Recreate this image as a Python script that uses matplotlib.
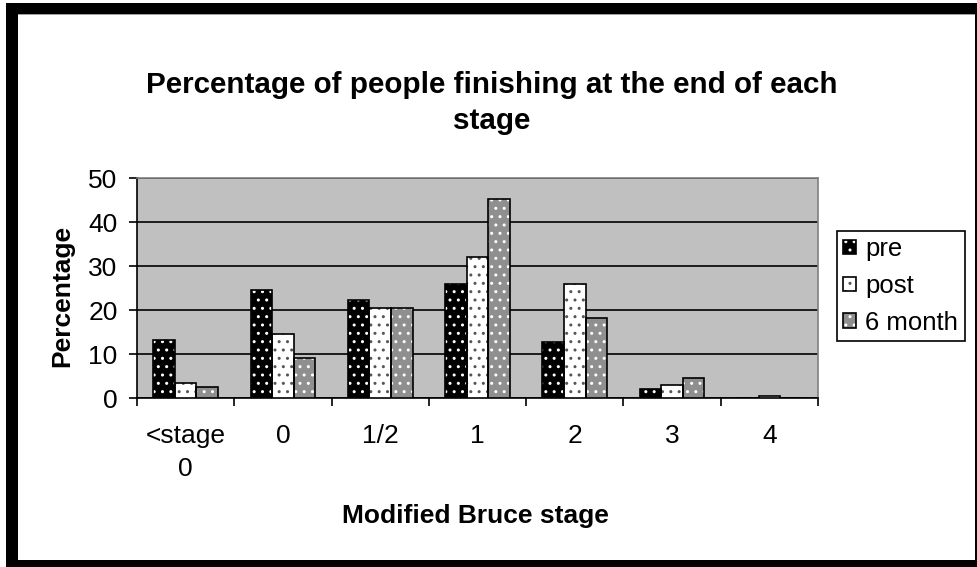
import matplotlib
matplotlib.use("Agg")
import matplotlib.pyplot as plt
import numpy as np
from matplotlib.patches import Rectangle
from matplotlib.legend_handler import HandlerTuple

plt.rcParams['font.family'] = ['Liberation Sans', 'DejaVu Sans']
plt.rcParams['hatch.linewidth'] = 1.0

categories = ['<stage\n0', '0', '1/2', '1', '2', '3', '4']
series_names = ['pre', 'post', '6 month']
pre = [13.2, 24.6, 22.3, 25.9, 12.8, 2.1, 0.0]
post = [3.5, 14.5, 20.4, 32.1, 25.8, 2.9, 0.5]
six_month = [2.4, 9.1, 20.4, 45.3, 18.2, 4.6, 0.0]
yticks = [0, 10, 20, 30, 40, 50]

faces = ['black', 'white', '#8f8f8f']
dots = ['white', '#555555', 'white']

fig = plt.figure(figsize=(9.77, 5.67), dpi=100)
fig.patch.set_facecolor('white')

# black frame round the chart
fig.patches.append(Rectangle((6 / 977, 0), 1, 1 - 3 / 567, transform=fig.transFigure,
                             facecolor='black', edgecolor='none', zorder=-20))
fig.patches.append(Rectangle((18 / 977, 7 / 567), (975 - 18) / 977, (560 - 14) / 567,
                             transform=fig.transFigure, facecolor='white',
                             edgecolor='none', zorder=-19))
fig.patches.append(Rectangle((18 / 977, 1 - 15 / 567), (975 - 18) / 977, 1 / 567,
                             transform=fig.transFigure, facecolor='#a0a0a0',
                             edgecolor='none', zorder=-18))

ax = fig.add_axes([137 / 977, 1 - 398 / 567, (818 - 137) / 977, (398 - 178) / 567])
ax.set_facecolor('#c0c0c0')

x = np.arange(len(categories))
w = 0.222
handles = []
for i, (vals, name) in enumerate(zip([pre, post, six_month], series_names)):
    pos = x + (i - 1) * w
    b1 = ax.bar(pos, vals, w, color=faces[i], edgecolor=dots[i], hatch='..',
                linewidth=0, zorder=3)
    b2 = ax.bar(pos, vals, w, fill=False, edgecolor='black', linewidth=1.2, zorder=4)
    handles.append((b1, b2))

ax.set_xlim(-0.5, len(categories) - 0.5)
ax.set_ylim(0, 50)
ax.set_yticks(yticks)
ax.yaxis.grid(True, color='black', linewidth=1.2, zorder=1)
ax.set_axisbelow(True)

ax.set_xticks(np.arange(-0.5, len(categories), 1.0))
ax.set_xticklabels([])
ax.set_xticks(x, minor=True)
ax.set_xticklabels(categories, minor=True)
ax.tick_params(axis='x', which='major', length=6, width=1.2, direction='out')
ax.tick_params(axis='x', which='minor', length=0, pad=19, labelsize=19)
ax.tick_params(axis='y', length=6, width=1.2, pad=8, labelsize=19)
for lab in ax.get_xticklabels(minor=True):
    lab.set_linespacing(1.47)

for s in ['left', 'bottom']:
    ax.spines[s].set_color('black')
    ax.spines[s].set_linewidth(1.2)
for s in ['top', 'right']:
    ax.spines[s].set_color('#808080')
    ax.spines[s].set_linewidth(1.2)

fig.text(492 / 977, 1 - 103 / 567,
         'Percentage of people finishing at the end of each\nstage',
         ha='center', va='center', fontsize=21.3, fontweight='bold', linespacing=1.4)
fig.text(62 / 977, 1 - 296 / 567, 'Percentage', rotation=90, ha='center', va='center',
         fontsize=19, fontweight='bold')
fig.text(475 / 977, 1 - 516 / 567, 'Modified Bruce stage', ha='center', va='center',
         fontsize=19, fontweight='bold')

leg = ax.legend(handles, series_names, loc='center left',
                bbox_to_anchor=(837 / 977, 1 - 286 / 567),
                bbox_transform=fig.transFigure, fontsize=18.5, frameon=True,
                fancybox=False, framealpha=1, edgecolor='black',
                handlelength=0.5, handleheight=0.5, handletextpad=0.35,
                labelspacing=0.5, borderpad=0.25, borderaxespad=0,
                handler_map={tuple: HandlerTuple(ndivide=1)})
leg.get_frame().set_linewidth(1.2)

fig.savefig('out.png', dpi=100)
